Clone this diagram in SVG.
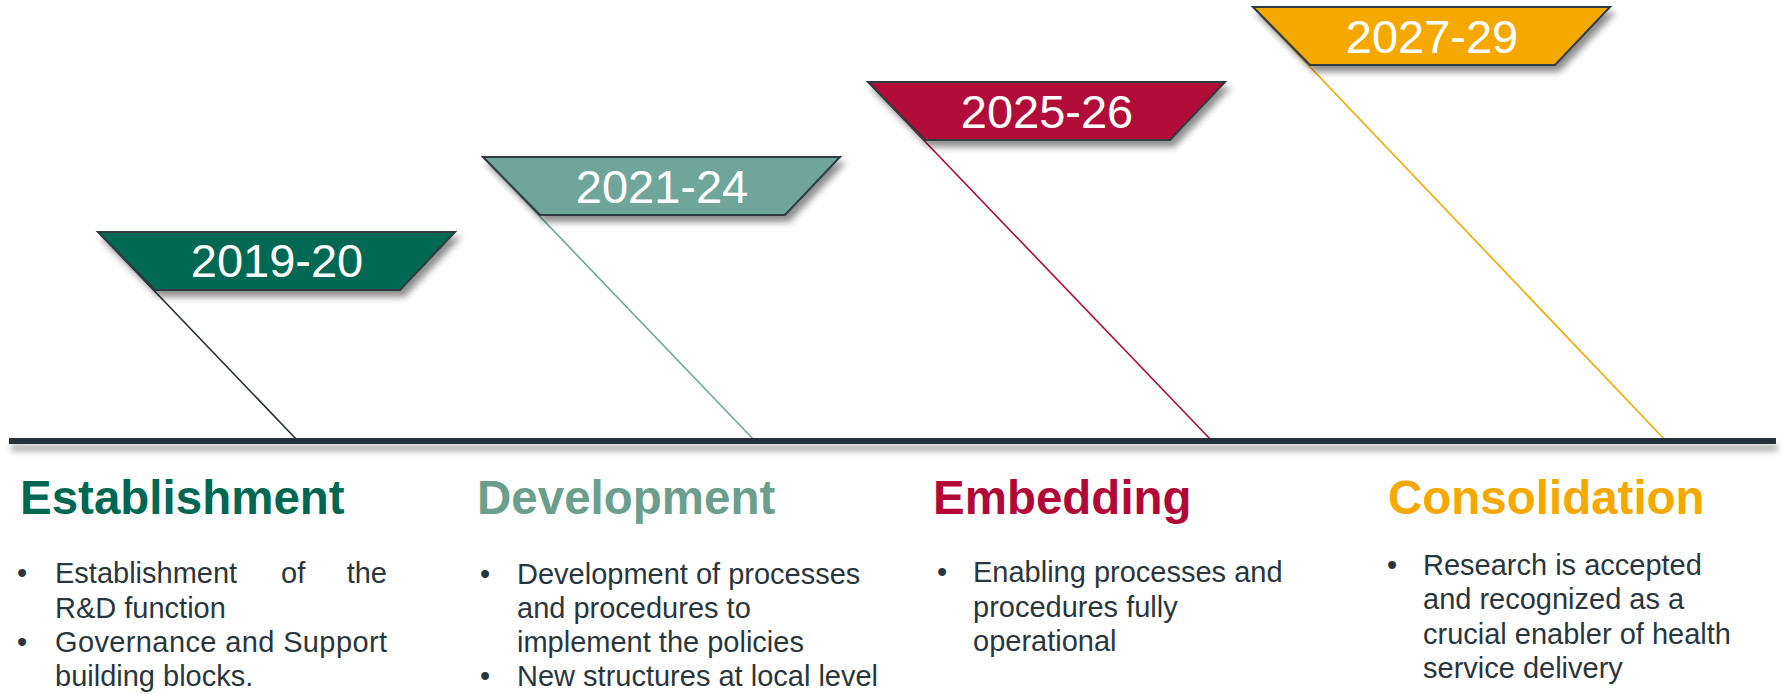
<svg xmlns="http://www.w3.org/2000/svg" width="1783" height="694" viewBox="0 0 1783 694">
<style>
.yr{font-family:"Liberation Sans",Arial,sans-serif;font-size:47px;fill:#ffffff;text-anchor:middle}
.hd{font-family:"Liberation Sans",Arial,sans-serif;font-size:47.5px;font-weight:bold}
.bd{font-family:"Liberation Sans",Arial,sans-serif;font-size:29px;fill:#2a363d}
.ban{stroke:#2d3b40;stroke-width:2;stroke-linejoin:miter;filter:url(#sh)}
.con{stroke-width:1.6;fill:none}
</style>
<defs>
<filter id="sh" x="-10%" y="-20%" width="125%" height="160%">
<feGaussianBlur in="SourceAlpha" stdDeviation="3.5"/>
<feOffset dx="4" dy="6" result="b"/>
<feComponentTransfer><feFuncA type="linear" slope="0.45"/></feComponentTransfer>
<feMerge><feMergeNode/><feMergeNode in="SourceGraphic"/></feMerge>
</filter>
<filter id="lsh" x="-2%" y="-100%" width="104%" height="500%">
<feGaussianBlur in="SourceAlpha" stdDeviation="3"/>
<feOffset dx="2" dy="7" result="b"/>
<feComponentTransfer><feFuncA type="linear" slope="0.35"/></feComponentTransfer>
<feMerge><feMergeNode/><feMergeNode in="SourceGraphic"/></feMerge>
</filter>
</defs>
<rect width="1783" height="694" fill="#ffffff"/>

<g id="connectors">
<line class="con" x1="98" y1="232" x2="298" y2="441" stroke="#263238"/>
<line class="con" x1="483" y1="157" x2="755" y2="441" stroke="#6fa69a"/>
<line class="con" x1="868" y1="82" x2="1212" y2="441" stroke="#b20838"/>
<line class="con" x1="1253" y1="7" x2="1666" y2="441" stroke="#f5a800"/>
</g>

<g id="timeline">
<rect x="9" y="438" width="1767" height="6" fill="#263238" filter="url(#lsh)"/>
</g>

<g id="banner-2019-20">
<polygon class="ban" points="98,232 455,232 400,290 155,290" fill="#006852"/>
<text class="yr" x="277" y="277">2019-20</text>
</g>
<g id="banner-2021-24">
<polygon class="ban" points="483,157 840,157 785,215 540,215" fill="#6fa69a"/>
<text class="yr" x="662" y="203">2021-24</text>
</g>
<g id="banner-2025-26">
<polygon class="ban" points="868,82 1225,82 1170,140 925,140" fill="#b20838"/>
<text class="yr" x="1047" y="128">2025-26</text>
</g>
<g id="banner-2027-29">
<polygon class="ban" points="1253,7 1610,7 1555,65 1310,65" fill="#f5a800"/>
<text class="yr" x="1432" y="53">2027-29</text>
</g>

<g id="col-establishment">
<text class="hd" x="20" y="514" fill="#006852">Establishment</text>
<text class="bd" x="22" y="583" text-anchor="middle">•</text>
<text class="bd" x="55" y="583">Establishment</text>
<text class="bd" x="281" y="583">of</text>
<text class="bd" x="387" y="583" text-anchor="end">the</text>
<text class="bd" x="55" y="618">R&amp;D function</text>
<text class="bd" x="22" y="652" text-anchor="middle">•</text>
<text class="bd" x="55" y="652" textLength="332" lengthAdjust="spacing">Governance and Support</text>
<text class="bd" x="55" y="686">building blocks.</text>
</g>

<g id="col-development">
<text class="hd" x="477" y="514" fill="#6b9e8c">Development</text>
<text class="bd" x="485" y="584" text-anchor="middle">•</text>
<text class="bd" x="517" y="584">Development of processes</text>
<text class="bd" x="517" y="618">and procedures to</text>
<text class="bd" x="517" y="652">implement the policies</text>
<text class="bd" x="485" y="686" text-anchor="middle">•</text>
<text class="bd" x="517" y="686">New structures at local level</text>
</g>

<g id="col-embedding">
<text class="hd" x="933" y="514" fill="#b20838">Embedding</text>
<text class="bd" x="942" y="582" text-anchor="middle">•</text>
<text class="bd" x="973" y="582">Enabling processes and</text>
<text class="bd" x="973" y="617">procedures fully</text>
<text class="bd" x="973" y="651">operational</text>
</g>

<g id="col-consolidation">
<text class="hd" x="1388" y="514" fill="#f5a800">Consolidation</text>
<text class="bd" x="1392" y="575" text-anchor="middle">•</text>
<text class="bd" x="1423" y="575">Research is accepted</text>
<text class="bd" x="1423" y="609">and recognized as a</text>
<text class="bd" x="1423" y="644">crucial enabler of health</text>
<text class="bd" x="1423" y="678">service delivery</text>
</g>
</svg>
